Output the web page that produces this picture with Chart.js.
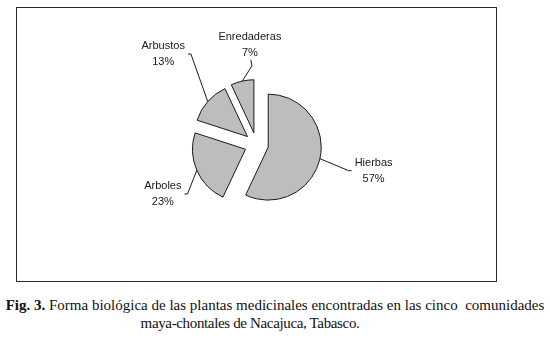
<!DOCTYPE html>
<html lang="es">

<head>
    <meta charset="UTF-8">
    <title>Forma biológica</title>
    <script src="https://cdn.jsdelivr.net/npm/chart.js@4"></script>
    <style>
        body { margin: 0; background: #fff; width: 550px; height: 339px; position: relative; overflow: hidden; }
        #box { position: absolute; left: 16px; top: 7px; width: 479px; height: 273px; border: 1.5px solid #2a2a2a; }
        #box canvas { position: absolute; left: 0; top: 0; }
        .cap { position: absolute; text-align: center; white-space: pre;
            font: 15px "Liberation Serif", "Times New Roman", serif; line-height: 18px; color: #111; }
        #cap1 { left: 0; top: 296px; width: 550px; }
        #cap2 { left: 100px; top: 314px; width: 300px; letter-spacing: -0.35px; }
    </style>
</head>

<body>
    <div id="box"><canvas id="myChart" width="479" height="273"></canvas></div>
    <div class="cap" id="cap1"><b>Fig. 3.</b> Forma biológica de las plantas medicinales encontradas en las cinco  comunidades</div>
    <div class="cap" id="cap2">maya-chontales de Nacajuca, Tabasco.</div>
</body>

<script>

    var labels = ['Hierbas', 'Arboles', 'Arbustos', 'Enredaderas'];
    var percents = [57, 23, 13, 7];

    // every slice is pulled out from the centre by the same amount (px)
    var explode = 12;
    // label placement: distance from slice centre and a small turn (deg) off the slice middle
    var labelDist = [108, 94, 118, 88];
    var labelTurn = [0, -5, 3, 10];

    // pie that moves every arc the same distance (the built-in offset also grows the radius)
    class ExplodedPie extends Chart.PieController {
        draw() {
            var ctx = this.chart.ctx;
            this._cachedMeta.data.forEach((arc) => {
                var a = (arc.startAngle + arc.endAngle) / 2;
                ctx.save();
                ctx.translate(Math.cos(a) * explode, Math.sin(a) * explode);
                arc.draw(ctx);
                ctx.restore();
            });
        }
    }
    ExplodedPie.id = 'explodedPie';
    ExplodedPie.defaults = Chart.PieController.defaults;
    ExplodedPie.overrides = Chart.PieController.overrides;
    Chart.register(ExplodedPie);

    var pieLabels = {
        id: 'pieLabels',
        afterDatasetsDraw(chart) {
            var ctx = chart.ctx;
            var meta = chart.getDatasetMeta(0);
            ctx.save();
            ctx.strokeStyle = '#1a1a1a';
            ctx.lineWidth = 1;
            ctx.fillStyle = '#1a1a1a';
            ctx.font = '11px "Liberation Sans", Arial, sans-serif';
            ctx.textAlign = 'center';
            ctx.textBaseline = 'middle';
            meta.data.forEach((arc, i) => {
                var a = (arc.startAngle + arc.endAngle) / 2;
                var cx = arc.x + Math.cos(a) * explode;
                var cy = arc.y + Math.sin(a) * explode;
                var x0 = cx + Math.cos(a) * arc.outerRadius;
                var y0 = cy + Math.sin(a) * arc.outerRadius;

                var la = a + labelTurn[i] * Math.PI / 180;
                var tx = cx + Math.cos(la) * labelDist[i];
                var ty = cy + Math.sin(la) * labelDist[i];
                var pct = percents[i] + '%';
                var w = Math.max(ctx.measureText(labels[i]).width, ctx.measureText(pct).width) / 2;

                ctx.beginPath();
                ctx.moveTo(x0, y0);
                if (Math.abs(Math.cos(la)) < 0.3) {
                    // label above / below: come in to its middle
                    var sy = Math.sin(la) < 0 ? 1 : -1;
                    var ey = ty + sy * 15;
                    ctx.lineTo(tx + 2, ey + sy * 6);
                    ctx.lineTo(tx + 1, ey);
                } else {
                    // label at the side: finish with a short hook
                    var sx = Math.cos(la) < 0 ? 1 : -1;
                    var ex = tx + sx * (w + 3);
                    ctx.lineTo(ex + sx * 3, ty);
                    ctx.lineTo(ex, ty);
                }
                ctx.stroke();

                ctx.fillText(labels[i], tx, ty - 8);
                ctx.fillText(pct, tx, ty + 8);
            });
            ctx.restore();
        }
    };

    var chart = new Chart(document.getElementById('myChart'), {
        type: 'explodedPie',
        data: {
            labels: labels,
            datasets: [{
                data: percents,
                backgroundColor: '#bdbdc0',
                borderColor: '#1a1a1a',
                borderWidth: 1,
                radius: 53
            }]
        },
        options: {
            responsive: false,
            animation: false,
            events: [],
            layout: { padding: 0 },
            plugins: {
                legend: { display: false },
                tooltip: { enabled: false }
            }
        },
        plugins: [pieLabels]
    });

</script>

</html>
